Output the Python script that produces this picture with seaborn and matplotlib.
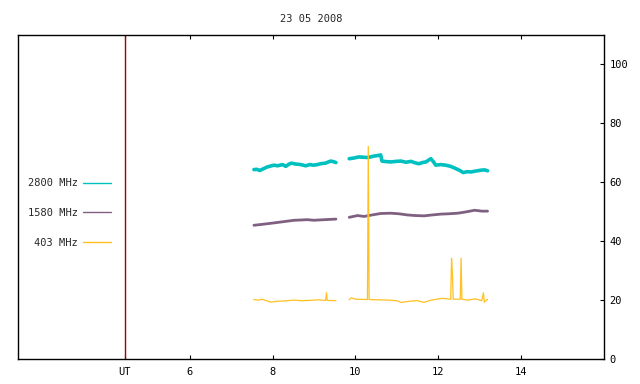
import numpy as np
import pandas as pd
import matplotlib
matplotlib.use("Agg")
import matplotlib.pyplot as plt
import seaborn as sns

# valori (ore UT, flusso)
titolo = "23 05 2008"
bande = ["2800 MHz", "1580 MHz", "403 MHz"]
colori = ["#00c0c0", "#806080", "#ffc020"]
spessori = [2.6, 2.0, 0.9]

ore_2800_a = [7.55, 7.62, 7.69, 7.78, 7.87, 7.95, 8.03, 8.12, 8.24, 8.32, 8.40, 8.46, 8.55, 8.68, 8.80, 8.90, 8.99, 9.08, 9.16, 9.28, 9.40, 9.47, 9.53]
val_2800_a = [64.3, 64.4, 64.0, 64.6, 65.2, 65.5, 65.8, 65.6, 66.0, 65.4, 66.2, 66.5, 66.2, 66.0, 65.6, 66.0, 65.8, 66.0, 66.3, 66.5, 67.2, 67.0, 66.7]
ore_2800_b = [9.85, 9.95, 10.08, 10.20, 10.30, 10.45, 10.55, 10.61, 10.64, 10.75, 10.86, 10.98, 11.10, 11.22, 11.34, 11.44, 11.53, 11.62, 11.70, 11.82, 11.88, 11.94, 12.06, 12.18, 12.30, 12.43, 12.52, 12.60, 12.70, 12.79, 12.90, 13.03, 13.12, 13.19]
val_2800_b = [68.0, 68.2, 68.6, 68.5, 68.4, 68.9, 69.1, 69.3, 67.2, 67.0, 66.9, 67.1, 67.2, 66.8, 67.1, 66.6, 66.3, 66.7, 66.9, 68.0, 67.0, 65.8, 66.0, 65.8, 65.4, 64.6, 64.0, 63.3, 63.6, 63.5, 63.8, 64.1, 64.2, 63.9]

ore_1580_a = [7.55, 7.80, 8.03, 8.25, 8.52, 8.70, 8.84, 9.00, 9.25, 9.53]
val_1580_a = [45.4, 45.8, 46.2, 46.6, 47.1, 47.2, 47.3, 47.1, 47.3, 47.5]
ore_1580_b = [9.85, 10.05, 10.21, 10.40, 10.61, 10.85, 11.05, 11.26, 11.45, 11.66, 11.85, 12.07, 12.25, 12.47, 12.65, 12.88, 13.05, 13.19]
val_1580_b = [48.1, 48.7, 48.4, 48.9, 49.4, 49.5, 49.3, 48.9, 48.7, 48.6, 48.9, 49.2, 49.3, 49.5, 49.9, 50.5, 50.2, 50.2]

ore_403_a = [7.55, 7.65, 7.75, 7.85, 7.96, 8.10, 8.30, 8.50, 8.70, 8.90, 9.10, 9.28, 9.30, 9.32, 9.53]
val_403_a = [20.2, 20.0, 20.3, 19.8, 19.3, 19.6, 19.7, 20.0, 19.8, 19.9, 20.1, 19.9, 22.5, 19.9, 19.8]
ore_403_b = [9.85, 9.90, 10.00, 10.29, 10.31, 10.33, 10.50, 10.80, 11.00, 11.10, 11.30, 11.50, 11.65, 11.80, 12.00, 12.10, 12.30, 12.32, 12.34, 12.36, 12.53, 12.55, 12.57, 12.70, 12.90, 13.05, 13.09, 13.11, 13.19]
val_403_b = [20.1, 20.8, 20.3, 20.2, 72.2, 20.2, 20.1, 20.0, 19.8, 19.2, 19.6, 19.8, 19.2, 19.9, 20.4, 20.6, 20.3, 34.2, 29.3, 20.3, 20.3, 34.2, 20.3, 20.0, 20.4, 19.8, 22.5, 19.3, 20.3]

ora_ut = 4.43
tick_x = [ora_ut, 6, 8, 10, 12, 14]
etichette_x = ["UT", "6", "8", "10", "12", "14"]
tick_y = [0, 20, 40, 60, 80, 100]

segmenti = {
    "2800 MHz": [(ore_2800_a, val_2800_a), (ore_2800_b, val_2800_b)],
    "1580 MHz": [(ore_1580_a, val_1580_a), (ore_1580_b, val_1580_b)],
    "403 MHz": [(ore_403_a, val_403_a), (ore_403_b, val_403_b)],
}

sns.set_style("white")
plt.rcParams["font.family"] = ["DejaVu Sans Mono"]
plt.rcParams["font.size"] = 7.5

fig = plt.figure(figsize=(6.4, 3.84), dpi=100)
ax = fig.add_axes([18 / 640, 1 - 359 / 384, 586 / 640, 324 / 384])

maniglie = []
for banda, colore, lw in zip(bande, colori, spessori):
    for i, (ore, val) in enumerate(segmenti[banda]):
        df = pd.DataFrame({"ora": ore, "flusso": val})
        sns.lineplot(data=df, x="ora", y="flusso", ax=ax, color=colore, linewidth=lw,
                     estimator=None, sort=False, legend=False)
    maniglie.append(ax.lines[-1])

ax.axvline(ora_ut, color="#a00000", linewidth=1.0)

ax.set_xlim(1.855, 16.0)
ax.set_ylim(0, 110)
ax.set_xticks(tick_x)
ax.set_xticklabels(etichette_x)
ax.set_yticks(tick_y)
ax.yaxis.tick_right()
ax.set_xlabel("")
ax.set_ylabel("")
ax.tick_params(axis="x", direction="in", length=3, width=0.8, top=True, bottom=True, pad=6, colors="black")
ax.tick_params(axis="y", direction="in", length=3, width=0.8, left=False, right=True, pad=4, colors="black")
for s in ax.spines.values():
    s.set_color("black")
    s.set_linewidth(1.0)

ax.set_title(titolo, fontsize=7.5, pad=9)

leg = ax.legend(maniglie, bande, markerfirst=False, frameon=False, loc="center right",
                bbox_to_anchor=((111 - 18) / 586, (359 - 213) / 324), borderaxespad=0, borderpad=0,
                handlelength=2.65, handletextpad=0.5, labelspacing=1.9, fontsize=7.5)
for l in leg.get_lines():
    l.set_linewidth(1.0)

fig.savefig("out.png", dpi=100)
